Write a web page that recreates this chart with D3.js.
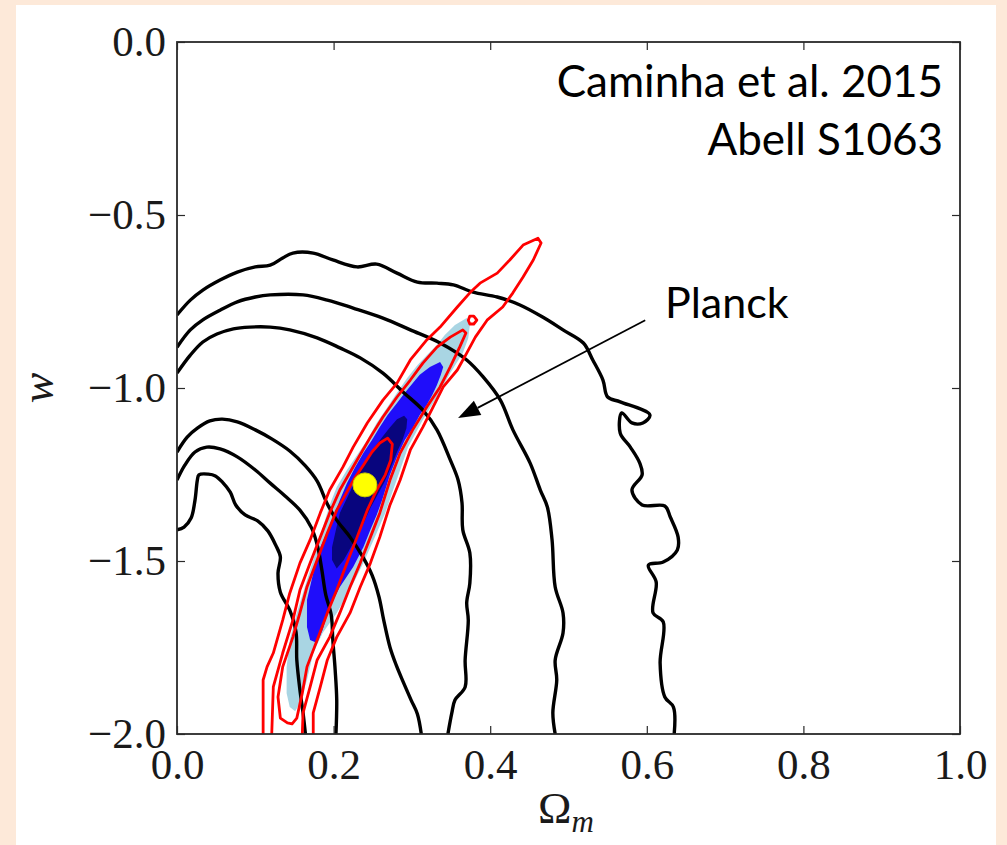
<!DOCTYPE html>
<html>
<head>
<meta charset="utf-8">
<script src="https://cdn.jsdelivr.net/npm/d3@7"></script>
<style>
  html, body { margin: 0; padding: 0; background: #fde9d9; }
  svg { display: block; }
</style>
</head>
<body>
<svg id="chart" width="1007" height="845"></svg>
<script>
// ---- axis ticks ----
const xTicks = [0, 0.2, 0.4, 0.6, 0.8, 1.0];
const xTickLabels = ["0.0", "0.2", "0.4", "0.6", "0.8", "1.0"];
const yTicks = [0, -0.5, -1.0, -1.5, -2.0];
const yTickLabels = ["0.0", "\u22120.5", "\u22121.0", "\u22121.5", "\u22122.0"];

// ---- black contours, outer family (Omega_m, w) ----
const blackA = [[0,-0.789],[0.017,-0.746],[0.033,-0.717],[0.055,-0.688],[0.077,-0.665],[0.100,-0.650],[0.119,-0.645],[0.135,-0.624],[0.148,-0.610],[0.174,-0.610],[0.199,-0.630],[0.230,-0.650],[0.255,-0.642],[0.281,-0.668],[0.307,-0.694],[0.332,-0.697],[0.353,-0.702],[0.378,-0.723],[0.409,-0.737],[0.438,-0.760],[0.467,-0.795],[0.493,-0.832],[0.519,-0.870],[0.531,-0.919],[0.544,-0.977],[0.550,-1.026],[0.566,-1.040],[0.604,-1.078],[0.595,-1.101],[0.581,-1.101],[0.568,-1.072],[0.566,-1.130],[0.579,-1.171],[0.591,-1.217],[0.594,-1.251],[0.581,-1.295],[0.594,-1.338],[0.623,-1.341],[0.630,-1.373],[0.640,-1.431],[0.639,-1.468],[0.621,-1.503],[0.602,-1.512],[0.612,-1.561],[0.608,-1.650],[0.621,-1.676],[0.617,-1.795],[0.623,-1.893],[0.634,-1.922],[0.635,-2.0]];
const blackB = [[0,-0.882],[0.017,-0.832],[0.033,-0.803],[0.055,-0.775],[0.077,-0.751],[0.100,-0.737],[0.119,-0.731],[0.161,-0.731],[0.192,-0.746],[0.225,-0.769],[0.263,-0.798],[0.298,-0.832],[0.336,-0.870],[0.370,-0.919],[0.391,-0.968],[0.413,-1.035],[0.429,-1.121],[0.451,-1.217],[0.464,-1.295],[0.473,-1.344],[0.479,-1.439],[0.483,-1.575],[0.493,-1.650],[0.493,-1.708],[0.483,-1.786],[0.485,-1.844],[0.480,-1.939],[0.483,-2.0]];
const blackC = [[0,-0.957],[0.017,-0.905],[0.033,-0.867],[0.051,-0.844],[0.072,-0.829],[0.093,-0.824],[0.119,-0.824],[0.144,-0.832],[0.179,-0.855],[0.208,-0.884],[0.234,-0.913],[0.263,-0.957],[0.289,-1.012],[0.314,-1.064],[0.332,-1.121],[0.349,-1.208],[0.359,-1.266],[0.364,-1.332],[0.365,-1.410],[0.374,-1.477],[0.374,-1.564],[0.370,-1.621],[0.372,-1.671],[0.368,-1.786],[0.368,-1.864],[0.355,-1.902],[0.351,-1.939],[0.346,-2.0]];

// ---- black contours, inner family ----
const blackD = [[0,-1.185],[0.013,-1.142],[0.026,-1.116],[0.042,-1.095],[0.058,-1.090],[0.077,-1.098],[0.100,-1.121],[0.121,-1.147],[0.144,-1.182],[0.164,-1.225],[0.179,-1.269],[0.192,-1.335],[0.204,-1.382],[0.221,-1.431],[0.236,-1.483],[0.249,-1.540],[0.258,-1.604],[0.264,-1.671],[0.272,-1.749],[0.280,-1.801],[0.289,-1.850],[0.299,-1.902],[0.307,-1.942],[0.312,-2.0]];
const blackE = [[0,-1.266],[0.010,-1.223],[0.023,-1.185],[0.038,-1.171],[0.055,-1.176],[0.077,-1.199],[0.100,-1.237],[0.119,-1.275],[0.138,-1.312],[0.157,-1.353],[0.172,-1.405],[0.180,-1.462],[0.185,-1.526],[0.190,-1.598],[0.197,-1.656],[0.199,-1.728],[0.202,-1.815],[0.204,-1.902],[0.203,-2.0]];
const blackF = [[0,-1.410],[0.009,-1.402],[0.018,-1.376],[0.023,-1.324],[0.026,-1.266],[0.028,-1.251],[0.040,-1.249],[0.049,-1.254],[0.058,-1.272],[0.068,-1.301],[0.075,-1.338],[0.087,-1.367],[0.103,-1.384],[0.116,-1.413],[0.126,-1.454],[0.132,-1.488],[0.129,-1.535],[0.132,-1.590],[0.144,-1.642],[0.152,-1.705],[0.153,-1.786],[0.157,-1.873],[0.161,-1.939],[0.164,-2.0]];

// ---- filled confidence regions ----
const fillLight = [[0.370,-0.798],[0.355,-0.818],[0.342,-0.847],[0.332,-0.876],[0.319,-0.905],[0.307,-0.934],[0.294,-0.971],[0.281,-1.014],[0.268,-1.058],[0.255,-1.101],[0.243,-1.150],[0.230,-1.194],[0.217,-1.237],[0.204,-1.286],[0.195,-1.338],[0.189,-1.382],[0.179,-1.460],[0.166,-1.555],[0.153,-1.650],[0.144,-1.728],[0.140,-1.806],[0.140,-1.882],[0.144,-1.922],[0.151,-1.934],[0.157,-1.910],[0.166,-1.844],[0.174,-1.766],[0.186,-1.708],[0.204,-1.650],[0.221,-1.584],[0.238,-1.506],[0.255,-1.419],[0.266,-1.361],[0.276,-1.295],[0.285,-1.237],[0.295,-1.171],[0.314,-1.092],[0.332,-1.026],[0.349,-0.957],[0.365,-0.899],[0.372,-0.856],[0.374,-0.818]];
const fillMid = [[0.336,-0.925],[0.323,-0.939],[0.310,-0.962],[0.301,-0.986],[0.291,-1.014],[0.281,-1.043],[0.269,-1.078],[0.259,-1.113],[0.249,-1.150],[0.238,-1.188],[0.227,-1.231],[0.217,-1.275],[0.208,-1.324],[0.198,-1.382],[0.183,-1.460],[0.174,-1.535],[0.166,-1.613],[0.166,-1.691],[0.170,-1.728],[0.179,-1.737],[0.186,-1.699],[0.195,-1.633],[0.208,-1.575],[0.225,-1.517],[0.238,-1.460],[0.247,-1.410],[0.255,-1.367],[0.262,-1.324],[0.272,-1.251],[0.281,-1.199],[0.291,-1.150],[0.301,-1.116],[0.310,-1.078],[0.319,-1.049],[0.326,-1.020],[0.332,-0.991],[0.337,-0.962],[0.340,-0.939]];
const fillDark = [[0.290,-1.080],[0.281,-1.090],[0.271,-1.116],[0.262,-1.142],[0.252,-1.173],[0.242,-1.208],[0.233,-1.246],[0.224,-1.286],[0.216,-1.324],[0.208,-1.361],[0.203,-1.410],[0.198,-1.460],[0.198,-1.497],[0.204,-1.522],[0.213,-1.497],[0.222,-1.460],[0.230,-1.431],[0.239,-1.387],[0.247,-1.347],[0.256,-1.309],[0.265,-1.272],[0.274,-1.225],[0.281,-1.185],[0.288,-1.150],[0.293,-1.116],[0.294,-1.090]];

// ---- red contour lines ----
const redOuter = [[0.110,-2.0],[0.110,-1.939],[0.110,-1.844],[0.115,-1.806],[0.123,-1.766],[0.135,-1.671],[0.144,-1.593],[0.157,-1.506],[0.170,-1.439],[0.183,-1.361],[0.195,-1.295],[0.212,-1.228],[0.225,-1.171],[0.243,-1.101],[0.263,-1.035],[0.281,-0.986],[0.298,-0.919],[0.319,-0.861],[0.336,-0.824],[0.358,-0.766],[0.374,-0.725],[0.387,-0.697],[0.409,-0.668],[0.425,-0.630],[0.442,-0.587],[0.461,-0.567],[0.465,-0.581],[0.455,-0.630],[0.442,-0.679],[0.429,-0.725],[0.416,-0.766],[0.396,-0.804],[0.381,-0.853],[0.370,-0.899],[0.358,-0.948],[0.340,-0.997],[0.327,-1.055],[0.314,-1.113],[0.298,-1.179],[0.285,-1.266],[0.272,-1.338],[0.259,-1.431],[0.247,-1.506],[0.234,-1.575],[0.221,-1.650],[0.204,-1.720],[0.192,-1.786],[0.183,-1.864],[0.174,-1.939],[0.174,-2.0]];
const redMid = [[0.121,-2.0],[0.123,-1.864],[0.135,-1.766],[0.148,-1.671],[0.157,-1.584],[0.170,-1.506],[0.183,-1.431],[0.195,-1.361],[0.208,-1.295],[0.230,-1.208],[0.247,-1.142],[0.263,-1.084],[0.281,-1.026],[0.298,-0.977],[0.314,-0.928],[0.332,-0.882],[0.349,-0.853],[0.365,-0.832],[0.369,-0.841],[0.361,-0.882],[0.349,-0.939],[0.336,-0.997],[0.319,-1.055],[0.301,-1.121],[0.285,-1.188],[0.272,-1.266],[0.259,-1.361],[0.247,-1.431],[0.234,-1.506],[0.221,-1.575],[0.208,-1.650],[0.195,-1.720],[0.179,-1.786],[0.170,-1.864],[0.161,-1.939],[0.160,-2.0]];
const redInner = [[0.141,-1.968],[0.132,-1.954],[0.129,-1.893],[0.135,-1.806],[0.148,-1.720],[0.157,-1.650],[0.166,-1.575],[0.179,-1.497],[0.192,-1.419],[0.204,-1.353],[0.215,-1.309],[0.227,-1.260],[0.238,-1.223],[0.249,-1.185],[0.259,-1.159],[0.269,-1.145],[0.275,-1.162],[0.273,-1.208],[0.266,-1.251],[0.255,-1.295],[0.243,-1.353],[0.230,-1.431],[0.217,-1.506],[0.204,-1.584],[0.192,-1.650],[0.179,-1.728],[0.166,-1.806],[0.160,-1.882],[0.153,-1.954],[0.147,-1.971]];
const redIsland = [[0.372,-0.804],[0.374,-0.792],[0.379,-0.792],[0.383,-0.804],[0.379,-0.815],[0.374,-0.815]];

// ---- best-fit point and annotation ----
const bestFit = [0.240, -1.280];
const arrowFrom = [0.598, -0.804];
const arrowTo = [0.359, -1.087];

// ---- layout ----
const W = 1007, H = 845;
const plot = { left: 177, top: 42, width: 783, height: 692 };

const svg = d3.select("#chart");
svg.append("rect").attr("width", W).attr("height", H).attr("fill", "#fde9d9");
svg.append("rect").attr("x", 16).attr("y", 5).attr("width", 980).attr("height", H - 5).attr("fill", "#ffffff");

const x = d3.scaleLinear().domain([0, 1]).range([plot.left, plot.left + plot.width]);
const y = d3.scaleLinear().domain([-2, 0]).range([plot.top + plot.height, plot.top]);

svg.append("defs").append("clipPath").attr("id", "plotClip")
  .append("rect").attr("x", plot.left).attr("y", plot.top)
  .attr("width", plot.width).attr("height", plot.height);

const g = svg.append("g").attr("clip-path", "url(#plotClip)");

const poly = d3.line().x(d => x(d[0])).y(d => y(d[1])).curve(d3.curveLinearClosed);
const smooth = d3.line().x(d => x(d[0])).y(d => y(d[1])).curve(d3.curveCatmullRom.alpha(0.5));
const jagged = d3.line().x(d => x(d[0])).y(d => y(d[1])).curve(d3.curveLinear);
const jaggedClosed = d3.line().x(d => x(d[0])).y(d => y(d[1])).curve(d3.curveLinearClosed);

// filled regions
g.append("path").attr("d", poly(fillLight)).attr("fill", "#a9d5e3");
g.append("path").attr("d", poly(fillMid)).attr("fill", "#1f0dfa");
g.append("path").attr("d", poly(fillDark)).attr("fill", "#08057e");

// black contours
[blackA, blackB, blackC, blackD, blackE, blackF].forEach(c => {
  g.append("path").attr("d", smooth(c)).attr("fill", "none")
    .attr("stroke", "#000").attr("stroke-width", 3.4).attr("stroke-linejoin", "round");
});

// red contours
[redOuter, redMid].forEach(c => {
  g.append("path").attr("d", jagged(c)).attr("fill", "none")
    .attr("stroke", "#ff0000").attr("stroke-width", 2.8).attr("stroke-linejoin", "round");
});
[redInner, redIsland].forEach(c => {
  g.append("path").attr("d", jaggedClosed(c)).attr("fill", "none")
    .attr("stroke", "#ff0000").attr("stroke-width", 2.8).attr("stroke-linejoin", "round");
});

// best-fit point
g.append("circle").attr("cx", x(bestFit[0])).attr("cy", y(bestFit[1])).attr("r", 12)
  .attr("fill", "#ffff00").attr("stroke", "#c9c900").attr("stroke-width", 1);

// frame
svg.append("rect").attr("x", plot.left).attr("y", plot.top)
  .attr("width", plot.width).attr("height", plot.height)
  .attr("fill", "none").attr("stroke", "#2a2a2a").attr("stroke-width", 1.8);

// axes with inward ticks
const tickFont = "'Liberation Serif', 'Times New Roman', serif";
const styleAxis = sel => {
  sel.select(".domain").remove();
  sel.selectAll(".tick line").attr("stroke", "#2a2a2a").attr("stroke-width", 1.2);
  sel.selectAll(".tick text").attr("font-family", tickFont).attr("font-size", 43).attr("fill", "#1a1a1a");
};
svg.append("g").attr("transform", `translate(0,${plot.top + plot.height})`)
  .call(d3.axisBottom(x).tickValues(xTicks).tickFormat((d, i) => xTickLabels[i]).tickSize(-8).tickPadding(14))
  .call(styleAxis);
svg.append("g").attr("transform", `translate(0,${plot.top})`)
  .call(d3.axisTop(x).tickValues(xTicks).tickFormat("").tickSize(-8))
  .call(styleAxis);
svg.append("g").attr("transform", `translate(${plot.left},0)`)
  .call(d3.axisLeft(y).tickValues(yTicks).tickFormat((d, i) => yTickLabels[i]).tickSize(-8).tickPadding(11))
  .call(styleAxis);
svg.append("g").attr("transform", `translate(${plot.left + plot.width},0)`)
  .call(d3.axisRight(y).tickValues(yTicks).tickFormat("").tickSize(-8))
  .call(styleAxis);

// axis titles
const xt = svg.append("text").attr("x", 538).attr("y", 823)
  .attr("font-family", tickFont).attr("fill", "#1a1a1a");
xt.append("tspan").attr("font-size", 45).text("\u03A9");
xt.append("tspan").attr("font-size", 31).attr("font-style", "italic").attr("dy", 9).text("m");

svg.append("text").attr("transform", "translate(53,388) rotate(-90)")
  .attr("text-anchor", "middle").attr("font-family", tickFont)
  .attr("font-style", "italic").attr("font-size", 46).attr("fill", "#1a1a1a").text("w");

// annotations
const noteFont = "Lato, 'Open Sans', sans-serif";
svg.append("text").attr("x", 943).attr("y", 97).attr("text-anchor", "end")
  .attr("font-family", noteFont).attr("font-size", 44).attr("fill", "#000").text("Caminha et al. 2015");
svg.append("text").attr("x", 943).attr("y", 155).attr("text-anchor", "end")
  .attr("font-family", noteFont).attr("font-size", 44).attr("fill", "#000").text("Abell S1063");
svg.append("text").attr("x", 665).attr("y", 318)
  .attr("font-family", noteFont).attr("font-size", 43).attr("fill", "#000").text("Planck");

// arrow pointing at the contours
const ax0 = x(arrowFrom[0]), ay0 = y(arrowFrom[1]);
const ax1 = x(arrowTo[0]), ay1 = y(arrowTo[1]);
const ang = Math.atan2(ay1 - ay0, ax1 - ax0);
const headLen = 22, headHalf = 8;
const bx = ax1 - headLen * Math.cos(ang), by = ay1 - headLen * Math.sin(ang);
svg.append("line").attr("x1", ax0).attr("y1", ay0).attr("x2", bx).attr("y2", by)
  .attr("stroke", "#000").attr("stroke-width", 1.8);
svg.append("path")
  .attr("d", `M${ax1},${ay1}L${bx - headHalf * Math.sin(ang)},${by + headHalf * Math.cos(ang)}L${bx + headHalf * Math.sin(ang)},${by - headHalf * Math.cos(ang)}Z`)
  .attr("fill", "#000");
</script>
</body>
</html>
